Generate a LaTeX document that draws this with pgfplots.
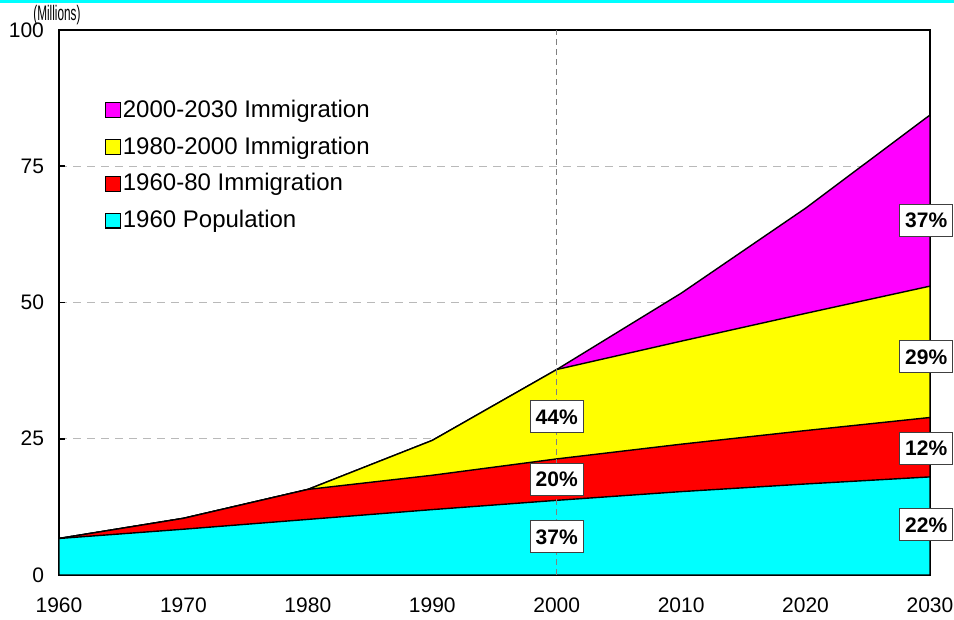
\documentclass[border=0pt]{standalone}
\usepackage{fontspec}
\setmainfont{Liberation Sans}
\usepackage{graphicx}
\usepackage{pgfplots}
\pgfplotsset{compat=1.18}
\definecolor{cMag}{RGB}{255,0,255}
\definecolor{cYel}{RGB}{255,255,0}
\definecolor{cRed}{RGB}{255,0,0}
\definecolor{cCya}{RGB}{0,255,255}
\begin{document}
\begin{tikzpicture}
\path[use as bounding box] (0,0) rectangle (477pt,310pt);
\draw[cCya, line width=1.5pt] (0,309.2pt) -- (477pt,309.2pt);
\begin{axis}[
  at={(29.5pt,22.5pt)}, anchor=south west,
  scale only axis, width=435.5pt, height=272.5pt,
  xmin=1960, xmax=2030, ymin=0, ymax=100,
  clip=false,
  xtick={1960,1970,...,2030}, minor xtick={1965,1975,...,2025},
  ytick={0,25,50,75,100},
  ymajorgrids,
  major grid style={gray!55, line width=0.6pt, dash pattern=on 4pt off 3pt},
  axis line style={line width=1pt},
  major tick length=3pt, minor tick length=3pt,
  every tick/.style={black, line width=0.8pt},
  tick align=inside,
  xtick pos=bottom, ytick pos=left,
  yticklabel style={font=\fontsize{10.5}{12}\selectfont, xshift=-4pt},
  xticklabel style={font=\fontsize{10.5}{12}\selectfont, yshift=-8pt},
  /pgf/number format/1000 sep={},
  /pgf/number format/assume math mode=true,
  legend style={at={(0.052,0.876)}, anchor=north west, draw=none, fill=none,
    font=\fontsize{12}{14}\selectfont, row sep=6.2pt, inner sep=0pt,
    nodes={inner sep=1pt}},
  legend cell align=left,
  legend image code/.code={\draw[#1, draw=black, line width=0.6pt] (0pt,-3.7pt) rectangle (7.5pt,3.7pt);},
]
\addplot[fill=cMag, draw=black, line width=0.7pt] coordinates {
 (1960,6.7) (1970,10.4) (1980,15.7) (1990,24.7) (2000,37.7) (2010,51.7) (2020,67.3) (2030,84.4)} \closedcycle;
\addlegendentry{2000-2030 Immigration}
\addplot[fill=cYel, draw=black, line width=0.7pt] coordinates {
 (1960,6.7) (1970,10.4) (1980,15.7) (1990,24.7) (2000,37.7) (2010,42.9) (2020,48.0) (2030,53.0)} \closedcycle;
\addlegendentry{1980-2000 Immigration}
\addplot[fill=cRed, draw=black, line width=0.7pt] coordinates {
 (1960,6.7) (1970,10.4) (1980,15.7) (1990,18.3) (2000,21.3) (2010,24.0) (2020,26.5) (2030,28.9)} \closedcycle;
\addlegendentry{1960-80 Immigration}
\addplot[fill=cCya, draw=black, line width=0.7pt] coordinates {
 (1960,6.7) (1970,8.4) (1980,10.2) (1990,12.0) (2000,13.7) (2010,15.3) (2020,16.7) (2030,18.0)} \closedcycle;
\addlegendentry{1960 Population}
\draw[gray, line width=0.6pt, dash pattern=on 3pt off 2pt] (axis cs:2000,0) -- (axis cs:2000,100);
\tikzset{pct/.style={draw=black!75, line width=0.5pt, fill=white, inner sep=0pt,
  minimum width=26.5pt, minimum height=16pt, font=\bfseries\fontsize{10.5}{12}\selectfont}}
\node[pct] at (axis cs:2000,29.0) {44\%};
\node[pct] at (axis cs:2000,17.6) {20\%};
\node[pct] at (axis cs:2000,7.0) {37\%};
\node[pct] at (axis cs:2029.7,65.1) {37\%};
\node[pct] at (axis cs:2029.7,40.0) {29\%};
\node[pct] at (axis cs:2029.7,23.3) {12\%};
\node[pct] at (axis cs:2029.7,9.2) {22\%};
\end{axis}
\node[anchor=west, inner sep=0pt, font=\fontsize{10.5}{11}\selectfont] at (16.5pt,302.5pt) {\scalebox{0.56}[1]{(Millions)}};
\end{tikzpicture}
\end{document}
